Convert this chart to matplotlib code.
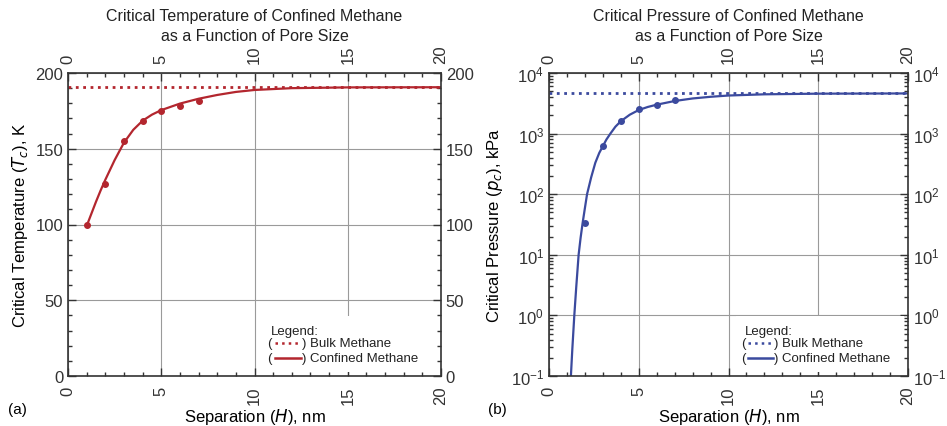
import numpy as np
import matplotlib
matplotlib.use("Agg")
import matplotlib.pyplot as plt
from matplotlib.ticker import MultipleLocator, LogLocator, NullFormatter

plt.rcParams['font.family'] = ['Liberation Sans', 'DejaVu Sans']

# measured points (separation H in nm)
h_pts = [1, 2, 3, 4, 5, 6, 7]
tc_pts = [99.5, 127, 155, 168.5, 175, 178.5, 181.5]
h_pts_p = [2, 3, 4, 5, 6, 7]
pc_pts = [33, 615, 1640, 2500, 2950, 3540]

# fitted curves
h_tc = [1.0, 1.25, 1.5, 1.75, 2.0, 2.5, 3.0, 3.5, 4.0, 4.5, 5.0, 6.0, 7.0, 8.0, 9.0, 10.0, 12.0, 15.0, 20.0]
tc_fit = [99, 107, 115, 122.5, 129.5, 142.5, 154, 162.5, 168.5, 172.5, 175.5, 179.8, 183, 185.5, 187.5, 188.8, 190, 190.5, 190.6]
h_pc = [1.22, 1.3, 1.41, 1.52, 1.65, 1.76, 1.87, 2.0, 2.12, 2.35, 2.58, 2.8, 3.0, 3.2, 3.42, 3.7,
        4.0, 4.5, 5.0, 5.5, 6.0, 7.0, 8.0, 9.0, 10.0, 12.0, 15.0, 20.0]
pc_fit = [0.1, 0.28, 1, 3.0, 10, 19, 33, 59, 100, 190, 330, 480, 620, 800, 1000, 1300,
          1600, 2050, 2450, 2750, 3000, 3450, 3800, 4050, 4250, 4450, 4560, 4600]

tc_bulk = 190.6
pc_bulk = 4600

red = '#b3262e'
blue = '#3b4a9e'

fig = plt.figure(figsize=(9.47, 4.27), dpi=100)
ax1 = fig.add_axes([68/947, 1-377/427, 373/947, 303/427])
ax2 = fig.add_axes([549/947, 1-377/427, 359/947, 303/427])


def style(ax):
    ax.set_xlim(0, 20)
    ax.xaxis.set_major_locator(MultipleLocator(5))
    ax.xaxis.set_minor_locator(MultipleLocator(1))
    ax.tick_params(which='both', direction='in', top=True, right=True,
                   labeltop=True, labelright=True, labelsize=12, colors='#333333')
    ax.tick_params(which='major', length=6, width=1)
    ax.tick_params(which='minor', length=3, width=1)
    ax.tick_params(axis='x', which='major', labelrotation=90, pad=7)
    ax.grid(True, which='major', color='#9a9a9a', lw=0.8)
    for s in ax.spines.values():
        s.set_linewidth(1.2)
        s.set_color('#333333')
    ax.set_xlabel('Separation ($H$), nm', fontsize=12, labelpad=1)


def legend(ax, color):
    ax.add_patch(plt.Rectangle((0.52, 0.012), 0.47, 0.185, transform=ax.transAxes,
                               facecolor='white', edgecolor='none', zorder=3))
    kw = dict(transform=ax.transAxes, fontsize=9.5, va='center', zorder=4, color='#222222')
    ax.text(0.545, 0.149, 'Legend:', **kw)
    for y, ls in [(0.109, ':'), (0.059, '-')]:
        ax.text(0.535, y, '(', **kw)
        ax.plot([0.555, 0.625], [y, y], transform=ax.transAxes, color=color, ls=ls,
                lw=1.8, zorder=4)
    ax.text(0.628, 0.109, ') Bulk Methane', **kw)
    ax.text(0.628, 0.059, ') Confined Methane', **kw)


# (a) temperature
style(ax1)
ax1.set_ylim(0, 200)
ax1.yaxis.set_major_locator(MultipleLocator(50))
ax1.yaxis.set_minor_locator(MultipleLocator(10))
ax1.axhline(tc_bulk, color=red, ls=':', lw=2, zorder=2)
ax1.plot(h_tc, tc_fit, color=red, lw=1.6, zorder=2)
ax1.plot(h_pts, tc_pts, 'o', color=red, ms=4, zorder=2)
ax1.set_ylabel('Critical Temperature ($T_c$), K', fontsize=12)
ax1.set_title('Critical Temperature of Confined Methane\nas a Function of Pore Size',
              fontsize=11.5, pad=24, color='#222222', linespacing=1.4)
legend(ax1, red)

# (b) pressure
style(ax2)
ax2.set_yscale('log')
ax2.set_ylim(0.1, 1e4)
ax2.yaxis.set_major_locator(LogLocator(base=10, numticks=10))
ax2.yaxis.set_minor_locator(LogLocator(base=10, subs=np.arange(2, 10), numticks=20))
ax2.yaxis.set_minor_formatter(NullFormatter())
ax2.axhline(pc_bulk, color=blue, ls=':', lw=2, zorder=2)
ax2.plot(h_pc, pc_fit, color=blue, lw=1.6, zorder=2)
ax2.plot(h_pts_p, pc_pts, 'o', color=blue, ms=4, zorder=2)
ax2.set_ylabel('Critical Pressure ($p_c$), kPa', fontsize=12)
ax2.set_title('Critical Pressure of Confined Methane\nas a Function of Pore Size',
              fontsize=11.5, pad=24, color='#222222', linespacing=1.4)
legend(ax2, blue)

fig.text(8/947, 1-410/427, '(a)', fontsize=11, va='center')
fig.text(488/947, 1-410/427, '(b)', fontsize=11, va='center')

fig.savefig('out.png', dpi=100)
